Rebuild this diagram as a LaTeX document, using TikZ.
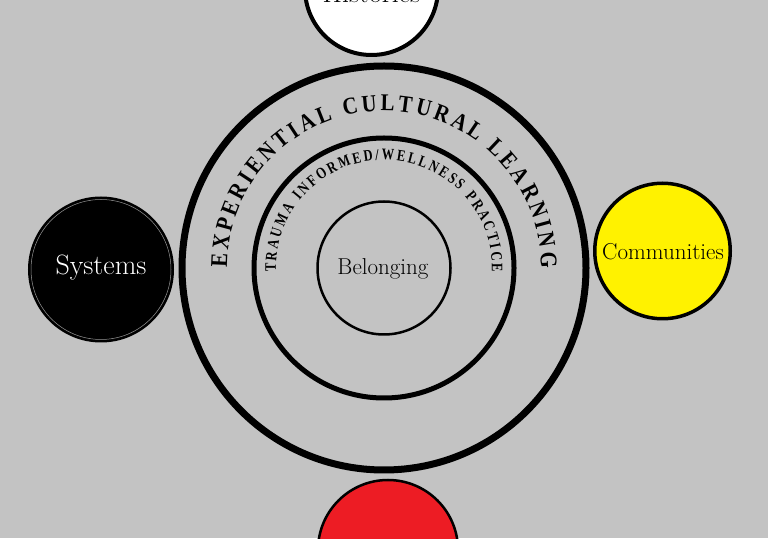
\documentclass[tikz,border=0pt]{standalone}
\usepackage{fontspec}
\setmainfont{Latin Modern Roman}
\newfontfamily\ringfont[FakeStretch=0.86]{Liberation Serif}
\newfontfamily\ringsmall[FakeStretch=0.78]{Liberation Serif}
\usetikzlibrary{decorations.text}
\definecolor{bg}{RGB}{195,195,195}
\definecolor{yel}{RGB}{255,242,0}
\definecolor{rd}{RGB}{237,28,36}
\definecolor{thin}{RGB}{150,150,150}
\begin{document}
\begin{tikzpicture}[x=1pt,y=1pt,
  ring/.style={circle, draw=black, inner sep=0pt, outer sep=0pt},
  lbl/.style={anchor=base, inner sep=0pt, outer sep=0pt}]
\useasboundingbox (0,0) rectangle (768,538);
\clip (0,0) rectangle (768,538);
\fill[bg] (0,0) rectangle (768,538);
% outer satellites
\node[ring, minimum size=133pt, line width=4pt, fill=white] (hist) at (371.5,549.5) {};
\node[ring, minimum size=143pt, line width=3pt, fill=black] (sys) at (101,268.5) {};
\node[ring, minimum size=140pt, line width=0.5pt, draw=thin] (sysin) at (sys.center) {};
\node[ring, minimum size=135.5pt, line width=3.5pt, fill=yel] (comm) at (662.5,287) {};
\node[ring, minimum size=140pt, line width=2.5pt, fill=rd] (red) at (388,-12) {};
% concentric rings
\node[ring, minimum size=404pt, line width=7pt] (outer) at (384,270) {};
\node[ring, minimum size=260pt, line width=5pt] (mid) at (outer.center) {};
\node[ring, minimum size=133pt, line width=2.5pt] (inner) at (outer.center) {};
% labels
\node[lbl, font=\fontsize{28pt}{28pt}\selectfont] (histl) at (371.5,535) {Histories};
\node[lbl, font=\fontsize{28pt}{28pt}\selectfont, text=white] (sysl) at (101,263) {Systems};
\node[lbl, font=\fontsize{23pt}{23pt}\selectfont] (comml) at (663,278) {Communities};
\node[lbl, font=\fontsize{23pt}{23pt}\selectfont] (bel) at (383,263) {Belonging};
% curved texts
\path[decorate, decoration={text along path, text align=fit to path, text color=black,
  text={|\ringfont\bfseries\fontsize{24pt}{24pt}\selectfont|EXPERIENTIAL CULTURAL LEARNING}}]
  ([shift={(180:157pt)}]outer.center) arc[start angle=180, end angle=0, radius=157pt];
\path[decorate, decoration={text along path, text align=fit to path, text color=black,
  text={|\ringsmall\bfseries\fontsize{16pt}{16pt}\selectfont|TRAUMA INFORMED/WELLNESS PRACTICE}}]
  ([shift={(182:108pt)}]outer.center) arc[start angle=182, end angle=-2, radius=108pt];
\end{tikzpicture}
\end{document}
